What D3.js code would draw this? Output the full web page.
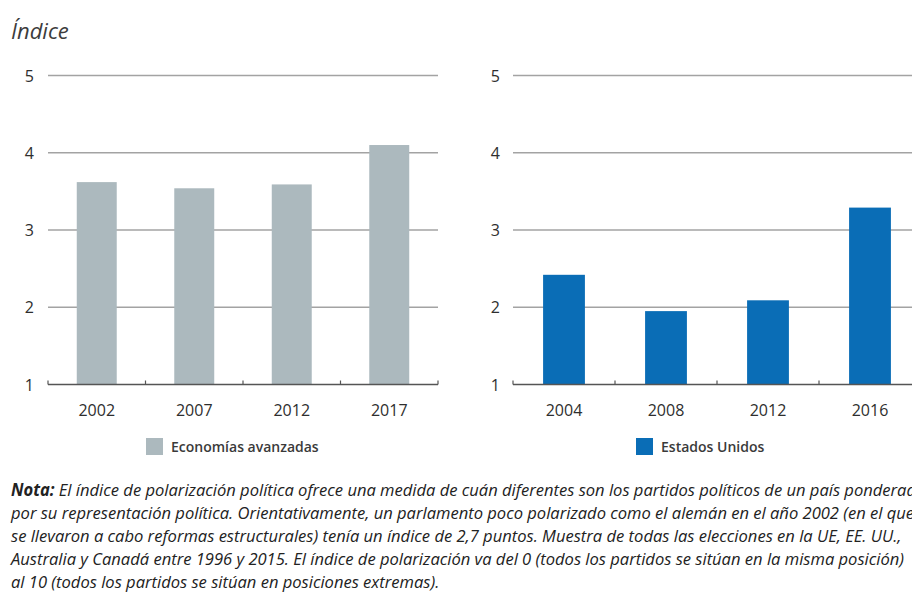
<!DOCTYPE html>
<html>
<head>
<meta charset="utf-8">
<script src="https://cdn.jsdelivr.net/npm/d3@7"></script>
<style>
  body { margin: 0; background: #fff; }
  text { font-family: "Open Sans", "Noto Sans", sans-serif; fill: #333; }
</style>
</head>
<body>
<script>
// data
var yearsAdv = ["2002", "2007", "2012", "2017"];
var valuesAdv = [3.62, 3.54, 3.59, 4.1];
var yearsUS = ["2004", "2008", "2012", "2016"];
var valuesUS = [2.42, 1.95, 2.09, 3.29];
var yTicks = [1, 2, 3, 4, 5];
var legendAdv = "Economías avanzadas";
var legendUS = "Estados Unidos";
var noteLines = [
  "El índice de polarización política ofrece una medida de cuán diferentes son los partidos políticos de un país ponderada",
  "por su representación política. Orientativamente, un parlamento poco polarizado como el alemán en el año 2002 (en el que",
  "se llevaron a cabo reformas estructurales) tenía un índice de 2,7 puntos. Muestra de todas las elecciones en la UE, EE. UU.,",
  "Australia y Canadá entre 1996 y 2015. El índice de polarización va del 0 (todos los partidos se sitúan en la misma posición)",
  "al 10 (todos los partidos se sitúan en posiciones extremas)."
];

var width = 912,
  height = 601;

var svg = d3
  .select("body")
  .append("svg")
  .attr("width", width)
  .attr("height", height);

svg
  .append("text")
  .attr("x", 11)
  .attr("y", 39)
  .style("font-size", "22px")
  .style("font-style", "italic")
  .style("fill", "#3c3c3c")
  .text("Índice");

function panel(years, values, color, x0, x1, labelX, legendX, legendText) {
  var y = d3.scaleLinear().domain([1, 5]).range([384.5, 75.5]);
  var x = d3.scaleBand().domain(years).range([x0, x1]);
  var g = svg.append("g");

  // gridlines
  g.selectAll(".grid")
    .data(yTicks.slice(1))
    .enter()
    .append("line")
    .attr("x1", x0)
    .attr("x2", x1)
    .attr("y1", function(d) { return y(d); })
    .attr("y2", function(d) { return y(d); })
    .attr("stroke", "#a3a3a3")
    .attr("stroke-width", 1.5);

  // y labels
  g.selectAll(".ylab")
    .data(yTicks)
    .enter()
    .append("text")
    .attr("x", labelX)
    .attr("y", function(d) { return y(d) + 6; })
    .attr("text-anchor", "end")
    .style("font-size", "16px")
    .style("fill", "#2e2e2e")
    .text(function(d) { return d; });

  // bars
  var bw = x.bandwidth() * 0.41;
  g.selectAll(".bar")
    .data(values)
    .enter()
    .append("rect")
    .attr("x", function(d, i) { return x(years[i]) + (x.bandwidth() - bw) / 2; })
    .attr("y", function(d) { return y(d); })
    .attr("width", bw)
    .attr("height", function(d) { return y(1) - y(d); })
    .attr("fill", color);

  // axis line + ticks
  g.append("line")
    .attr("x1", x0)
    .attr("x2", x1)
    .attr("y1", y(1))
    .attr("y2", y(1))
    .attr("stroke", "#555")
    .attr("stroke-width", 1.5);

  var edges = years.map(function(d) { return x(d); }).concat([x1]);
  g.selectAll(".tick")
    .data(edges)
    .enter()
    .append("line")
    .attr("x1", function(d) { return d; })
    .attr("x2", function(d) { return d; })
    .attr("y1", y(1))
    .attr("y2", y(1) - 4)
    .attr("stroke", "#555")
    .attr("stroke-width", 1.2);

  g.selectAll(".xlab")
    .data(years)
    .enter()
    .append("text")
    .attr("x", function(d) { return x(d) + x.bandwidth() / 2; })
    .attr("y", 416)
    .attr("text-anchor", "middle")
    .style("font-size", "16px")
    .style("fill", "#2e2e2e")
    .text(function(d) { return d; });

  // legend
  g.append("rect")
    .attr("x", legendX)
    .attr("y", 438)
    .attr("width", 17)
    .attr("height", 17)
    .attr("fill", color);
  g.append("text")
    .attr("x", legendX + 25)
    .attr("y", 452)
    .style("font-size", "14px")
    .style("font-weight", "600")
    .style("fill", "#3a3a3a")
    .text(legendText);
}

panel(yearsAdv, valuesAdv, "#acb9be", 48, 438, 34, 146, legendAdv);
panel(yearsUS, valuesUS, "#0a6db6", 513, 921, 500, 636, legendUS);

// note
var note = svg.append("g").attr("transform", "translate(11,0)");
var noteText = note
  .selectAll(".note")
  .data(noteLines)
  .enter()
  .append("text")
  .attr("y", function(d, i) { return 496 + i * 23; })
  .style("font-size", "17px")
  .style("font-style", "italic")
  .style("fill", "#222");

noteText
  .filter(function(d, i) { return i === 0; })
  .append("tspan")
  .style("font-weight", "bold")
  .text("Nota: ");
noteText.append("tspan").text(function(d) { return d; });

// squeeze to the condensed width of the original (line 4 ends at ~905px)
var w4 = noteText.nodes()[3].getComputedTextLength();
var k = 894 / w4;
noteText.attr("transform", "scale(" + k + ",1)");
</script>
</body>
</html>
